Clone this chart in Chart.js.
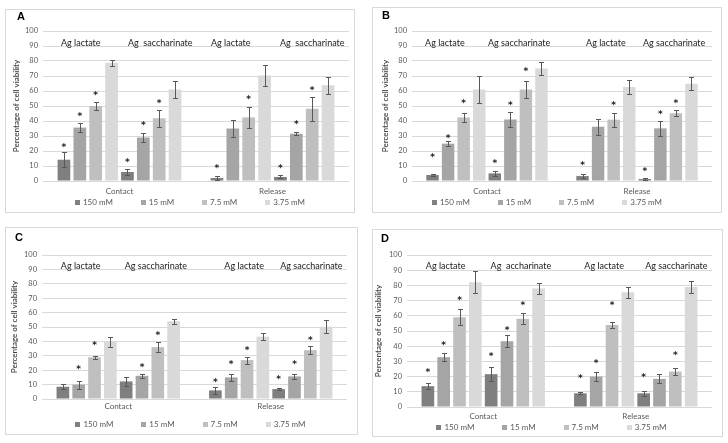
<!DOCTYPE html>
<html><head><meta charset="utf-8">
<script src="https://cdn.jsdelivr.net/npm/chart.js@4/dist/chart.umd.min.js"></script>
<style>
html,body{margin:0;padding:0;background:#fff;}
body{width:728px;height:443px;position:relative;overflow:hidden;}
.box{position:absolute;border:1px solid #d9d9d9;box-sizing:border-box;}
canvas{position:absolute;}
</style></head><body>
<script>
const concentrations = ["150 mM", "15 mM", "7.5 mM", "3.75 mM"];
const phases = ["Contact", "Release"];
const barColors = ["#7f7f7f", "#a5a5a5", "#bfbfbf", "#d9d9d9"];
const yTicks = [0, 10, 20, 30, 40, 50, 60, 70, 80, 90, 100];

// value order (16): Contact-lactate (150, 15, 7.5, 3.75 mM), Contact-saccharinate, Release-lactate, Release-saccharinate
const A_groupLabels = ["Ag lactate", "Ag  saccharinate", "Ag lactate", "Ag  saccharinate"];
const A_means  = [14.2, 35.6, 50.0, 78.9,  6.0, 29.0, 41.8, 61.0,  2.0, 35.0, 42.4, 70.4,  2.7, 31.5, 48.2, 63.8];
const A_errors = [5.0, 3.0, 2.5, 2.0,  2.0, 3.0, 5.5, 5.5,  1.4, 5.5, 7.0, 7.0,  1.0, 1.0, 8.0, 5.5];
const A_stars  = [24, 44.4, 58.7, null,  13.6, 38.4, 53.3, null,  10.2, null, 56.2, null,  9.8, 39.1, 62.2, null];

const B_groupLabels = ["Ag lactate", "Ag saccharinate", "Ag lactate", "Ag saccharinate"];
const B_means  = [4.0, 24.9, 42.4, 61.0,  5.1, 41.0, 61.0, 75.0,  3.3, 36.2, 40.9, 62.7,  1.3, 35.1, 45.1, 64.9];
const B_errors = [0.8, 1.5, 3.0, 9.2,  1.5, 5.0, 5.5, 4.5,  1.5, 5.3, 4.6, 4.6,  0.4, 4.9, 2.0, 4.5];
const B_stars  = [16.9, 29.6, 52.9, null,  12.9, 52.2, 74.4, null,  12.2, null, 52.2, null,  8.0, 45.8, 53.1, null];

const C_groupLabels = ["Ag lactate", "Ag saccharinate", "Ag lactate", "Ag saccharinate"];
const C_means  = [8.5, 10.0, 29.0, 39.6,  12.2, 16.1, 36.0, 54.0,  6.0, 15.0, 27.0, 43.3,  6.9, 15.7, 33.9, 50.2];
const C_errors = [1.6, 2.8, 1.0, 3.5,  3.3, 1.6, 3.7, 1.8,  2.4, 2.3, 2.5, 2.3,  0.8, 1.6, 2.8, 4.6];
const C_stars  = [null, 21.9, 38.9, null,  null, 23.5, 45.9, null,  13.1, 25.3, 35.5, null,  15.2, 25.3, 42.4, null];

const D_groupLabels = ["Ag lactate", "Ag  accharinate", "Ag lactate", "Ag saccharinate"];
const D_means  = [13.7, 32.8, 59.0, 82.0,  21.6, 43.2, 58.1, 78.0,  9.0, 20.0, 54.0, 75.5,  9.0, 18.5, 23.3, 78.9];
const D_errors = [1.8, 2.7, 5.3, 7.3,  4.4, 4.0, 3.7, 3.5,  0.7, 2.7, 2.0, 3.7,  1.5, 2.9, 2.2, 3.9];
const D_stars  = [24.4, 42.1, 71.6, null,  35.0, 52.0, 68.5, null,  20.3, 30.0, 68.3, null,  20.7, null, 35.5, null];

const FONT = "Lato, 'Open Sans', sans-serif";

function idx(p, g, c) { return p * 8 + g * 4 + c; }

const decorPlugin = {
  id: 'decor',
  afterDatasetsDraw(chart) {
    const o = chart.options.plugins.decor;
    const ctx = chart.ctx;
    const ys = chart.scales.y;
    const area = chart.chartArea;
    ctx.save();
    // error bars and asterisks
    for (let g = 0; g < 2; g++) {
      for (let c = 0; c < 4; c++) {
        const meta = chart.getDatasetMeta(g * 4 + c);
        for (let p = 0; p < 2; p++) {
          const bar = meta.data[p];
          const i = idx(p, g, c);
          const m = o.means[i], e = o.errors[i];
          const x = Math.round(bar.x) + 0.5;
          const yt = Math.round(ys.getPixelForValue(m + e)) + 0.5;
          const yb = Math.round(ys.getPixelForValue(Math.max(0, m - e))) + 0.5;
          ctx.strokeStyle = '#595959';
          ctx.lineWidth = 1;
          ctx.beginPath();
          ctx.moveTo(x, yt); ctx.lineTo(x, yb);
          ctx.moveTo(x - 2.5, yt); ctx.lineTo(x + 2.5, yt);
          ctx.moveTo(x - 2.5, yb); ctx.lineTo(x + 2.5, yb);
          ctx.stroke();
          const s = o.stars[i];
          if (s !== null && s !== undefined) {
            ctx.fillStyle = '#222';
            ctx.font = "bold 9px 'DejaVu Sans', sans-serif";
            ctx.textAlign = 'center';
            ctx.textBaseline = 'middle';
            ctx.fillText('*', bar.x, ys.getPixelForValue(s) + 2.5);
          }
        }
      }
    }
    // group labels above each set of four bars
    ctx.fillStyle = '#1a1a1a';
    ctx.font = '9px ' + FONT;
    ctx.textAlign = 'center';
    ctx.textBaseline = 'middle';
    for (let p = 0; p < 2; p++) {
      for (let g = 0; g < 2; g++) {
        const x0 = chart.getDatasetMeta(g * 4).data[p].x;
        const x1 = chart.getDatasetMeta(g * 4 + 3).data[p].x;
        const k = p * 2 + g;
        ctx.fillText(o.groupLabels[k], (x0 + x1) / 2 + o.labelShift[k], ys.getPixelForValue(o.labelLevel));
      }
    }
    // panel letter
    ctx.fillStyle = '#000';
    ctx.font = "bold 11px 'Liberation Sans', Arial, sans-serif";
    ctx.textAlign = 'left';
    ctx.textBaseline = 'middle';
    ctx.fillText(o.letter, o.letterX, o.letterY);
    // legend (first four datasets)
    ctx.font = '8px ' + FONT;
    const items = [0, 1, 2, 3].map(k => chart.data.datasets[k]);
    const widths = items.map(d => 8 + ctx.measureText(d.label).width);
    const gap = 28;
    const total = widths.reduce((a, b) => a + b, 0) + gap * 3;
    let lx = (area.left + area.right) / 2 + o.legendShift - total / 2;
    const ly = area.bottom + o.legendDy;
    items.forEach((d, k) => {
      ctx.fillStyle = d.backgroundColor;
      ctx.fillRect(Math.round(lx), Math.round(ly - 2.5), 5, 5);
      ctx.fillStyle = '#595959';
      ctx.textBaseline = 'middle';
      ctx.fillText(d.label, lx + 8, ly);
      lx += widths[k] + gap;
    });
    ctx.restore();
  }
};

function makePanel(cfg) {
  const box = document.createElement('div');
  box.className = 'box';
  Object.assign(box.style, {left: cfg.L + 'px', top: cfg.T + 'px', width: cfg.W + 'px', height: cfg.H + 'px'});
  document.body.appendChild(box);
  const cv = document.createElement('canvas');
  cv.width = cfg.W; cv.height = cfg.H;
  Object.assign(cv.style, {left: cfg.L + 'px', top: cfg.T + 'px', width: cfg.W + 'px', height: cfg.H + 'px'});
  document.body.appendChild(cv);

  const datasets = [];
  for (let g = 0; g < 2; g++) {
    for (let c = 0; c < 4; c++) {
      datasets.push({
        label: concentrations[c],
        data: phases.map((_, p) => cfg.means[idx(p, g, c)]),
        backgroundColor: barColors[c],
        borderWidth: 0,
        barPercentage: 0.8,
        categoryPercentage: 0.83
      });
    }
  }
  new Chart(cv, {
    type: 'bar',
    data: {labels: phases, datasets},
    options: {
      responsive: false,
      animation: false,
      devicePixelRatio: 1,
      layout: {padding: {left: cfg.padL, right: cfg.padR, top: cfg.padT, bottom: 0}},
      plugins: {
        legend: {display: false},
        tooltip: {enabled: false},
        decor: {
          means: cfg.means, errors: cfg.errors, stars: cfg.stars, groupLabels: cfg.groupLabels,
          labelShift: cfg.labelShift,
          labelLevel: cfg.labelLevel, letter: cfg.letter, letterX: cfg.letterX, letterY: cfg.letterY,
          legendDy: cfg.legendDy, legendShift: cfg.legendShift
        }
      },
      scales: {
        x: {
          grid: {display: false, drawTicks: false},
          border: {display: false},
          ticks: {color: '#595959', font: {family: FONT, size: 8}, padding: cfg.xPad, maxRotation: 0},
          afterFit: s => { s.height = cfg.xH; }
        },
        y: {
          min: 0, max: 100,
          afterBuildTicks: s => { s.ticks = yTicks.map(v => ({value: v})); },
          ticks: {color: '#595959', font: {family: FONT, size: 7.5}, padding: 5},
          grid: {color: '#d9d9d9', drawTicks: false, lineWidth: 1},
          border: {display: false},
          title: {display: true, text: 'Percentage of cell viability', color: '#404040',
                  font: {family: FONT, size: 8, weight: '600'}, padding: 0},
          afterFit: s => { s.width = cfg.yW; }
        }
      }
    },
    plugins: [decorPlugin]
  });
}

makePanel({L: 5, T: 9, W: 350, H: 204, padL: 7, yW: 31, padR: 6, padT: 22, xH: 32, xPad: 6,
  legendDy: 21, legendShift: -6, labelLevel: 92, labelShift: [-7, 9, -10, 8],
  letter: 'A', letterX: 12, letterY: 8,
  means: A_means, errors: A_errors, stars: A_stars, groupLabels: A_groupLabels});
makePanel({L: 372, T: 7, W: 350, H: 206, padL: 9, yW: 31, padR: 10, padT: 24, xH: 32, xPad: 6,
  legendDy: 21, legendShift: -15, labelLevel: 92, labelShift: [-11, 1, 0, 6],
  letter: 'B', letterX: 10, letterY: 9,
  means: B_means, errors: B_errors, stars: B_stars, groupLabels: B_groupLabels});
makePanel({L: 5, T: 227, W: 353, H: 208, padL: 5, yW: 32, padR: 11, padT: 28, xH: 36, xPad: 3,
  legendDy: 25, legendShift: -4, labelLevel: 92, labelShift: [-6, 6, 5, 9],
  letter: 'C', letterX: 10, letterY: 11,
  means: C_means, errors: C_errors, stars: C_stars, groupLabels: C_groupLabels});
makePanel({L: 372, T: 229, W: 351, H: 208, padL: 2, yW: 33, padR: 11, padT: 26, xH: 30, xPad: 5,
  legendDy: 20, legendShift: -8, labelLevel: 93, labelShift: [-6, 6, 0, 9],
  letter: 'D', letterX: 9, letterY: 10,
  means: D_means, errors: D_errors, stars: D_stars, groupLabels: D_groupLabels});
</script>
</body></html>
